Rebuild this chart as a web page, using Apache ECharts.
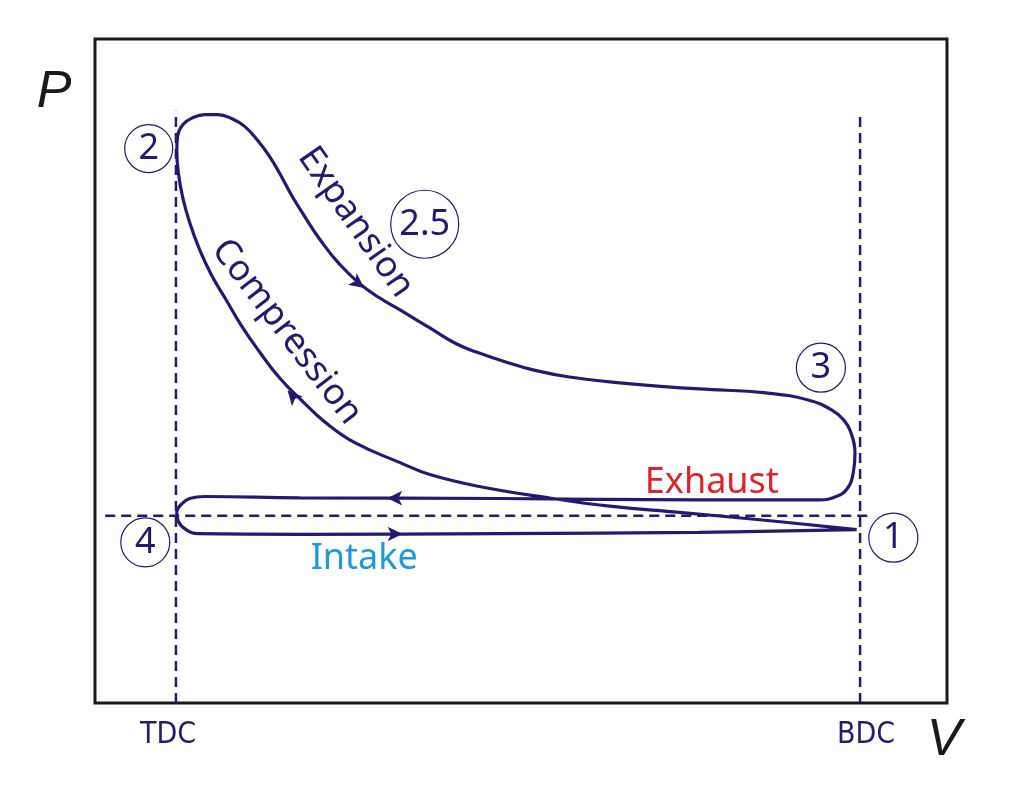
<!DOCTYPE html>
<html>
<head>
<meta charset="utf-8">
<script src="https://cdn.jsdelivr.net/npm/echarts@6/dist/echarts.min.js"></script>
<style>html,body{margin:0;padding:0;background:#fff}#c{width:1024px;height:800px}</style>
</head>
<body>
<div id="c"></div>
<script>
// ---- data (V: 0..100 relative volume, P: 0..100 relative pressure) ----
const TDC = 9.5, BDC = 89.8, P_ATM = 28.2;
const compression = [[89.4,26.1],[78.0,27.6],[68.6,28.7],[60.7,29.6],[53.7,30.8],[45.1,32.6],[39.3,34.4],[35.8,36.2],[30.5,39.2],[27.0,42.3],[24.3,45.5],[21.7,48.9],[19.3,52.9],[17.2,56.8],[15.4,60.7],[13.7,64.4],[12.3,68.2],[11.1,72.4],[10.3,76.1],[9.8,79.7],[9.6,83.2]];
const expansion = [[9.7,85.4],[10.3,87.1],[11.4,88.1],[12.9,88.6],[14.4,88.6],[16.1,88.0],[17.6,86.8],[19.1,84.7],[20.5,82.3],[21.7,79.7],[23.1,76.4],[24.6,73.3],[26.4,69.8],[28.7,66.1],[31.9,62.3],[35.8,59.2],[39.3,56.5],[42.4,54.1],[45.1,52.7],[48.1,51.4],[51.3,50.2],[55.7,49.1],[64.2,47.9],[70.9,47.3],[78.8,46.7],[83.8,45.6],[86.5,44.1],[87.9,42.6],[88.7,40.8],[89.2,37.7],[89.0,34.7],[88.3,32.3],[87.0,31.1],[85.0,30.6]];
const exhaust = [[70.9,30.6],[47.5,30.8],[24.0,30.9],[12.9,31.1],[11.1,30.8],[10.1,29.9],[9.6,28.7],[9.8,27.3],[10.7,26.1],[12.1,25.5]];
const intake = [[24.0,25.4],[47.5,25.5],[70.9,25.7],[89.4,26.1]];
const arrows = [[31.6,62.5,-127],[22.6,47.1,41.5],[34.3,30.85,90],[36.1,25.45,-90]];
const states = [{name:'1',v:93.7,p:24.9,size:49},{name:'2',v:6.3,p:83.5,size:48},{name:'2.5',v:38.7,p:72.1,size:68},{name:'3',v:85.2,p:50.5,size:49},{name:'4',v:5.9,p:24.2,size:49}];
const processLabels = [{name:'Expansion',v:30.6,p:72.4,rot:-55,color:'#261a70'},{name:'Compression',v:22.5,p:55.9,rot:-52.5,color:'#261a70'},{name:'Exhaust',v:72.4,p:33.1,rot:0,color:'#d9262b'},{name:'Intake',v:31.6,p:21.7,rot:0,color:'#1e9bd7'}];
const xLabels = ['TDC','BDC'];

const NAVY = '#261a70';
const chart = echarts.init(document.getElementById('c'), null, {renderer:'canvas'});
const cycle = compression.concat(expansion, exhaust, intake);
const dash = {color: NAVY, width: 2.5, type: [10, 6]};
const option = {
  animation: false,
  backgroundColor: '#fff',
  grid: {left: 95, right: 77, top: 39, bottom: 97, show: true, borderColor: '#1a1a1a', borderWidth: 3, backgroundColor: 'transparent'},
  xAxis: {type: 'value', min: 0, max: 100, axisLine: {show: false}, axisTick: {show: false}, axisLabel: {show: false}, splitLine: {show: false}},
  yAxis: {type: 'value', min: 0, max: 100, axisLine: {show: false}, axisTick: {show: false}, axisLabel: {show: false}, splitLine: {show: false}},
  series: [
    {type: 'line', data: [[TDC,0],[TDC,89.2]], symbol: 'none', lineStyle: dash, z: 1, silent: true},
    {type: 'line', data: [[BDC,0],[BDC,88.9]], symbol: 'none', lineStyle: dash, z: 1, silent: true},
    {type: 'line', data: [[1.2,P_ATM],[90.9,P_ATM]], symbol: 'none', lineStyle: dash, z: 1, silent: true},
    {type: 'line', data: cycle, symbol: 'none', smooth: 0.45, lineStyle: {color: NAVY, width: 3.2}, z: 3, silent: true},
    {type: 'scatter', data: arrows.map(a => ({value: [a[0], a[1]], symbolRotate: a[2]})), symbol: 'arrow', symbolSize: [11, 15], itemStyle: {color: NAVY, opacity: 1}, z: 4, silent: true},
    {type: 'scatter', clip: false, data: states.map(s => ({name: s.name, value: [s.v, s.p], symbolSize: s.size})), symbol: 'circle',
      itemStyle: {color: 'rgba(255,255,255,0)', borderColor: NAVY, borderWidth: 1.2, opacity: 1}, z: 4, silent: true,
      label: {show: true, position: 'inside', formatter: '{b}', color: NAVY, fontSize: 36, fontFamily: 'Noto Sans', fontWeight: 'normal', opacity: 1}},
    {type: 'scatter', clip: false, data: processLabels.map(l => ({name: l.name, value: [l.v, l.p], label: {rotate: l.rot, color: l.color}})), symbolSize: 0,
      itemStyle: {color: 'transparent', opacity: 1}, z: 5, silent: true,
      label: {show: true, position: 'inside', formatter: '{b}', fontSize: 36, fontFamily: 'Noto Sans', align: 'center', verticalAlign: 'middle', opacity: 1}}
  ],
  graphic: [
    {type: 'text', x: 54, y: 93, style: {text: 'P', font: 'italic 52px "Liberation Sans"', fill: '#1a1a1a', align: 'center', verticalAlign: 'middle'}},
    {type: 'text', x: 944, y: 741, style: {text: 'V', font: 'italic 52px "Liberation Sans"', fill: '#1a1a1a', align: 'center', verticalAlign: 'middle'}},
    {type: 'text', x: 168, y: 735, style: {text: xLabels[0], font: '30px "Liberation Sans Narrow", "DejaVu Sans Condensed", sans-serif', fill: NAVY, align: 'center', verticalAlign: 'middle'}},
    {type: 'text', x: 866, y: 735, style: {text: xLabels[1], font: '30px "Liberation Sans Narrow", "DejaVu Sans Condensed", sans-serif', fill: NAVY, align: 'center', verticalAlign: 'middle'}}
  ]
};
chart.setOption(option);
</script>
</body>
</html>
